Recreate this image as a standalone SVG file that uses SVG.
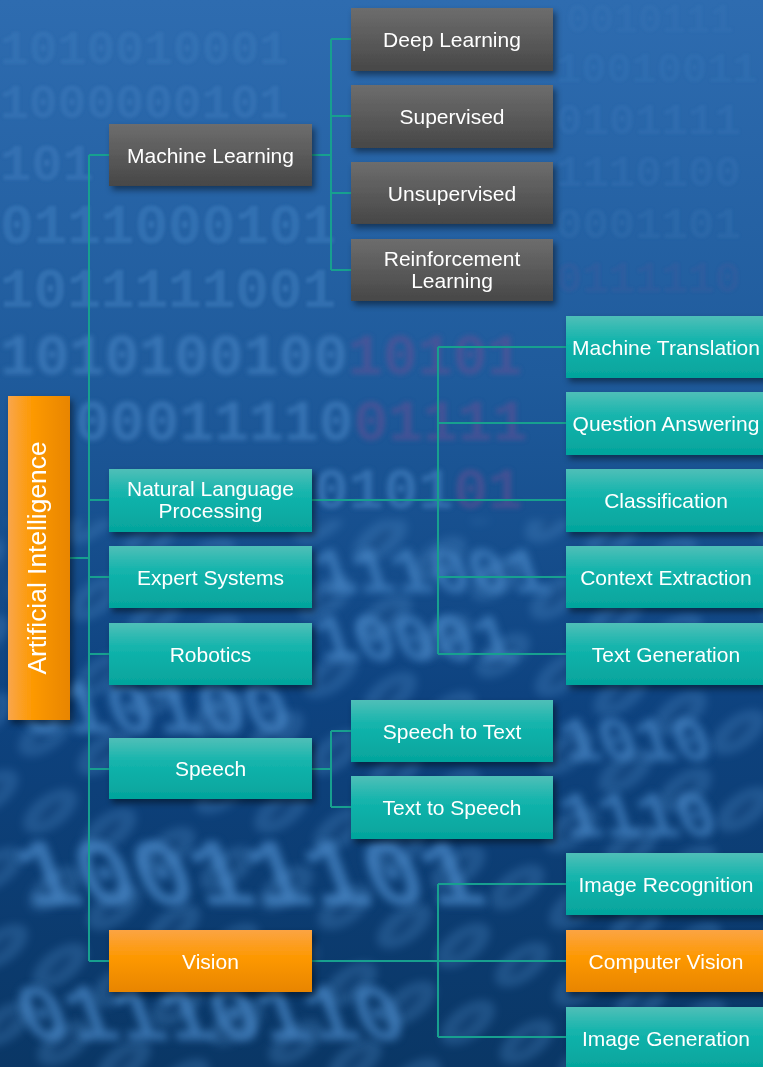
<svg xmlns="http://www.w3.org/2000/svg" width="763" height="1067" viewBox="0 0 763 1067">
<defs>
<linearGradient id="bg" x1="0" y1="0" x2="0" y2="1">
<stop offset="0" stop-color="#2e6cb0"/>
<stop offset="0.35" stop-color="#1f5b9c"/>
<stop offset="0.65" stop-color="#0e4380"/>
<stop offset="1" stop-color="#0a3766"/>
</linearGradient>
<linearGradient id="gGray" x1="0" y1="0" x2="0" y2="1">
<stop offset="0" stop-color="#6d6d6d"/>
<stop offset="1" stop-color="#474747"/>
</linearGradient>
<linearGradient id="gTeal" x1="0" y1="0" x2="0" y2="1">
<stop offset="0" stop-color="#4fbfb8"/>
<stop offset="0.4" stop-color="#13b4ac"/>
<stop offset="1" stop-color="#04a49c"/>
</linearGradient>
<linearGradient id="gOrange" x1="0" y1="0" x2="0" y2="1">
<stop offset="0" stop-color="#fba444"/>
<stop offset="0.45" stop-color="#fd9800"/>
<stop offset="1" stop-color="#e88500"/>
</linearGradient>
<linearGradient id="gOrangeH" x1="0" y1="0" x2="1" y2="0">
<stop offset="0" stop-color="#f9a64c"/>
<stop offset="0.4" stop-color="#fd9900"/>
<stop offset="1" stop-color="#e88500"/>
</linearGradient>
<pattern id="pBig" patternUnits="userSpaceOnUse" width="62" height="72" patternTransform="rotate(18) skewX(-25)">
<ellipse cx="31" cy="36" rx="19" ry="27" fill="#4f8cc8"/>
<ellipse cx="31" cy="36" rx="6" ry="14" fill="#1a4f88"/>
</pattern>
<filter id="sh" x="-10%" y="-20%" width="130%" height="160%">
<feDropShadow dx="3" dy="4" stdDeviation="3" flood-color="#000" flood-opacity="0.45"/>
</filter>
<filter id="b1" x="-5%" y="-20%" width="110%" height="140%"><feGaussianBlur stdDeviation="1.6"/></filter>
<filter id="b2" x="-5%" y="-20%" width="110%" height="140%"><feGaussianBlur stdDeviation="2.4"/></filter>
<filter id="b3" x="-10%" y="-30%" width="120%" height="160%"><feGaussianBlur stdDeviation="4.5"/></filter>
</defs>
<style>
.n text{font-family:"Liberation Sans",Arial,sans-serif;font-size:21px;fill:#fff;text-anchor:middle}
.gray{fill:url(#gGray);filter:url(#sh)}
.teal{fill:url(#gTeal);filter:url(#sh)}
.orange{fill:url(#gOrange);filter:url(#sh)}
.c path{fill:none;stroke:#17a08f;stroke-width:2}
.d{font-family:"Liberation Mono","Courier New",monospace;font-weight:bold;fill:#4e8dcd}
.p{fill:#6a4f95}
</style>
<rect x="0" y="0" width="763" height="1067" fill="url(#bg)"/>
<g id="background-digits">
<rect x="-20" y="520" width="800" height="560" fill="url(#pBig)" filter="url(#b3)" opacity="0.3"/>
<g filter="url(#b1)">
<text class="d" x="0" y="64" font-size="48" opacity="0.22">1010010001</text>
<text class="d" x="0" y="118" font-size="48" opacity="0.26">1000000101</text>
<text class="d" x="0" y="180" font-size="52" opacity="0.3">101</text>
<text class="d" x="0" y="243" font-size="56" opacity="0.34">0111000101</text>
<text class="d" x="0" y="307" font-size="56" opacity="0.36">1011111001</text>
<text class="d" x="566" y="32" font-size="40" opacity="0.1">0010111</text>
<text class="d" x="556" y="82" font-size="42" opacity="0.13">10010011</text>
<text class="d" x="556" y="134" font-size="44" opacity="0.15">0101111</text>
<text class="d" x="556" y="186" font-size="44" opacity="0.15">1110100</text>
<text class="d" x="556" y="238" font-size="44" opacity="0.14">0001101</text>
<text class="d" x="556" y="292" font-size="44" opacity="0.14"><tspan class="p">0111110</tspan></text>
</g>
<g filter="url(#b2)">
<text class="d" x="0" y="374" font-size="58" opacity="0.5">1010100100<tspan class="p">10101</tspan></text>
<text class="d" x="75" y="440" font-size="58" opacity="0.5">00011110<tspan class="p">01111</tspan></text>
<text class="d" x="314" y="508" font-size="58" opacity="0.5">0101<tspan class="p">01</tspan></text>
</g>
<g filter="url(#b3)" opacity="0.7">
<text class="d" transform="translate(322 592) skewX(18)" font-size="64">111001</text>
<text class="d" transform="translate(322 660) skewX(18)" font-size="66">10001</text>
<text class="d" transform="translate(24 733) skewX(18)" font-size="76">010100</text>
<text class="d" transform="translate(568 760) skewX(18)" font-size="62">1010</text>
<text class="d" transform="translate(568 836) skewX(18)" font-size="64">1110</text>
<text class="d" transform="translate(30 905) skewX(20)" font-size="96">10011101</text>
<text class="d" transform="translate(28 1040) skewX(20)" font-size="80">01110110</text>
</g>
</g>
<g id="connectors" class="c">
<path d="M70 558 H89"/>
<path d="M89 155 V961"/>
<path d="M89 155 H109 M89 500 H109 M89 577 H109 M89 654 H109 M89 769 H109 M89 961 H109"/>
<path d="M312 155 H331 M331 39 V270 M331 39 H351 M331 116 H351 M331 193 H351 M331 270 H351"/>
<path d="M312 500 H566 M438 347 V654 M438 347 H566 M438 423 H566 M438 577 H566 M438 654 H566"/>
<path d="M312 769 H331 M331 731 V807 M331 731 H351 M331 807 H351"/>
<path d="M312 961 H566 M438 884 V1037 M438 884 H566 M438 1037 H566"/>
</g>
<g id="n-ai" class="n">
<rect x="8" y="396" width="62" height="324" fill="url(#gOrangeH)" filter="url(#sh)"/>
<text transform="translate(46 558) rotate(-90)" style="font-size:26.4px">Artificial Intelligence</text>
</g>
<g id="n-ml" class="n"><rect class="gray" x="109" y="124" width="203" height="62"/><text x="210.5" y="162.5">Machine Learning</text></g>
<g id="n-nlp" class="n"><rect class="teal" x="109" y="469" width="203" height="63"/><text x="210.5" y="495.5">Natural Language</text><text x="210.5" y="517.5">Processing</text></g>
<g id="n-es" class="n"><rect class="teal" x="109" y="546" width="203" height="62"/><text x="210.5" y="584.5">Expert Systems</text></g>
<g id="n-rob" class="n"><rect class="teal" x="109" y="623" width="203" height="62"/><text x="210.5" y="661.5">Robotics</text></g>
<g id="n-speech" class="n"><rect class="teal" x="109" y="738" width="203" height="61"/><text x="210.5" y="776">Speech</text></g>
<g id="n-vision" class="n"><rect class="orange" x="109" y="930" width="203" height="62"/><text x="210.5" y="968.5">Vision</text></g>
<g id="n-dl" class="n"><rect class="gray" x="351" y="8" width="202" height="63"/><text x="452" y="47">Deep Learning</text></g>
<g id="n-sup" class="n"><rect class="gray" x="351" y="85" width="202" height="63"/><text x="452" y="124">Supervised</text></g>
<g id="n-unsup" class="n"><rect class="gray" x="351" y="162" width="202" height="62"/><text x="452" y="200.5">Unsupervised</text></g>
<g id="n-rl" class="n"><rect class="gray" x="351" y="239" width="202" height="62"/><text x="452" y="265.5">Reinforcement</text><text x="452" y="287.5">Learning</text></g>
<g id="n-mt" class="n"><rect class="teal" x="566" y="316" width="200" height="62"/><text x="666" y="354.5">Machine Translation</text></g>
<g id="n-qa" class="n"><rect class="teal" x="566" y="392" width="200" height="63"/><text x="666" y="431">Question Answering</text></g>
<g id="n-cls" class="n"><rect class="teal" x="566" y="469" width="200" height="63"/><text x="666" y="508">Classification</text></g>
<g id="n-ce" class="n"><rect class="teal" x="566" y="546" width="200" height="62"/><text x="666" y="584.5">Context Extraction</text></g>
<g id="n-tg" class="n"><rect class="teal" x="566" y="623" width="200" height="62"/><text x="666" y="661.5">Text Generation</text></g>
<g id="n-stt" class="n"><rect class="teal" x="351" y="700" width="202" height="62"/><text x="452" y="738.5">Speech to Text</text></g>
<g id="n-tts" class="n"><rect class="teal" x="351" y="776" width="202" height="63"/><text x="452" y="815">Text to Speech</text></g>
<g id="n-ir" class="n"><rect class="teal" x="566" y="853" width="200" height="62"/><text x="666" y="891.5">Image Recognition</text></g>
<g id="n-cv" class="n"><rect class="orange" x="566" y="930" width="200" height="62"/><text x="666" y="968.5">Computer Vision</text></g>
<g id="n-ig" class="n"><rect class="teal" x="566" y="1007" width="200" height="62"/><text x="666" y="1045.5">Image Generation</text></g>
</svg>
